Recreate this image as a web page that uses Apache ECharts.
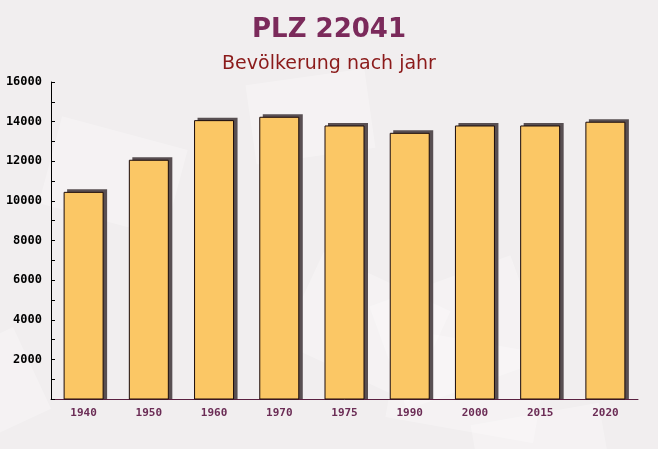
<!DOCTYPE html>
<html><head><meta charset="utf-8">
<script src="https://cdn.jsdelivr.net/npm/echarts@6/dist/echarts.min.js"></script>
<style>html,body{margin:0;padding:0;background:#f3f0f0}#c{width:658px;height:449px}</style>
</head><body><div id="c"></div>
<script>
var categories = ['1940','1950','1960','1970','1975','1990','2000','2015','2020'];
var values = [10430, 12050, 14050, 14220, 13780, 13410, 13780, 13780, 13970];
var yMax = 16000, yInterval = 2000;

var chart = echarts.init(document.getElementById('c'));
var BW = 39;
function renderBar(params, api) {
  var top = api.coord([api.value(0), api.value(1)]);
  var base = api.coord([api.value(0), 0]);
  var l = top[0] - BW / 2;
  return {
    type: 'group',
    children: [
      {type: 'rect', shape: {x: l + 3, y: top[1] - 3, width: BW + 1, height: base[1] - top[1] + 3},
       style: {fill: 'rgba(75,65,68,0.92)'}},
      {type: 'rect', shape: {x: l, y: top[1], width: BW, height: base[1] - top[1]},
       style: {fill: '#fbc765', stroke: '#1a0a0a', lineWidth: 1}}
    ]
  };
}
var deco = [];
var rects = [[30,120,130,90,-15],[400,160,150,110,20],[180,300,140,100,-25],[520,330,130,95,10],[250,50,120,80,8],[560,40,110,80,-20],[40,330,120,90,25],[330,380,150,90,-10]];
rects.forEach(function(r){
  deco.push({type:'rect', x:r[0], y:r[1], rotation:r[4]*Math.PI/180, originX:r[0], originY:r[1],
    shape:{x:0,y:0,width:r[2],height:r[3]}, style:{fill:'rgba(255,255,255,0.28)'}, z:-10});
});
chart.setOption({
  backgroundColor: '#f1eeef',
  animation: false,
  graphic: deco,
  title: [
    {text: 'PLZ 22041', left: 'center', top: 12,
     textStyle: {fontFamily: 'DejaVu Sans', fontWeight: 'bold', fontSize: 26, color: '#7b2a5b'}},
    {text: 'Bevölkerung nach jahr', left: 'center', top: 50,
     textStyle: {fontFamily: 'DejaVu Sans', fontWeight: 'normal', fontSize: 19, color: '#8b1a1a'}}
  ],
  grid: {left: 51, right: 20, top: 82, bottom: 50},
  xAxis: {
    type: 'category', data: categories,
    axisLine: {lineStyle: {color: '#5a2040', width: 1}},
    axisTick: {inside: true, length: 5, lineStyle: {color: '#5a2040'}},
    axisLabel: {fontFamily: 'DejaVu Sans Mono', fontWeight: 'bold', fontSize: 11, color: '#6b2c55', margin: 9}
  },
  yAxis: {
    type: 'value', min: 0, max: yMax, interval: yInterval,
    axisLine: {show: true, lineStyle: {color: '#000'}},
    axisTick: {show: true, inside: true, length: 4, lineStyle: {color: '#000'}},
    minorTick: {show: true, splitNumber: 2, length: 4, lineStyle: {color: '#000'}},
    splitLine: {show: false},
    axisLabel: {fontFamily: 'DejaVu Sans Mono', fontWeight: 'bold', fontSize: 12, color: '#000', margin: 9,
      formatter: function(v){ return v === 0 ? '' : String(v); }}
  },
  series: [{
    type: 'custom', renderItem: renderBar,
    data: values.map(function(v, i){ return [i, v]; }),
    encode: {x: 0, y: 1}
  }]
});
</script></body></html>
